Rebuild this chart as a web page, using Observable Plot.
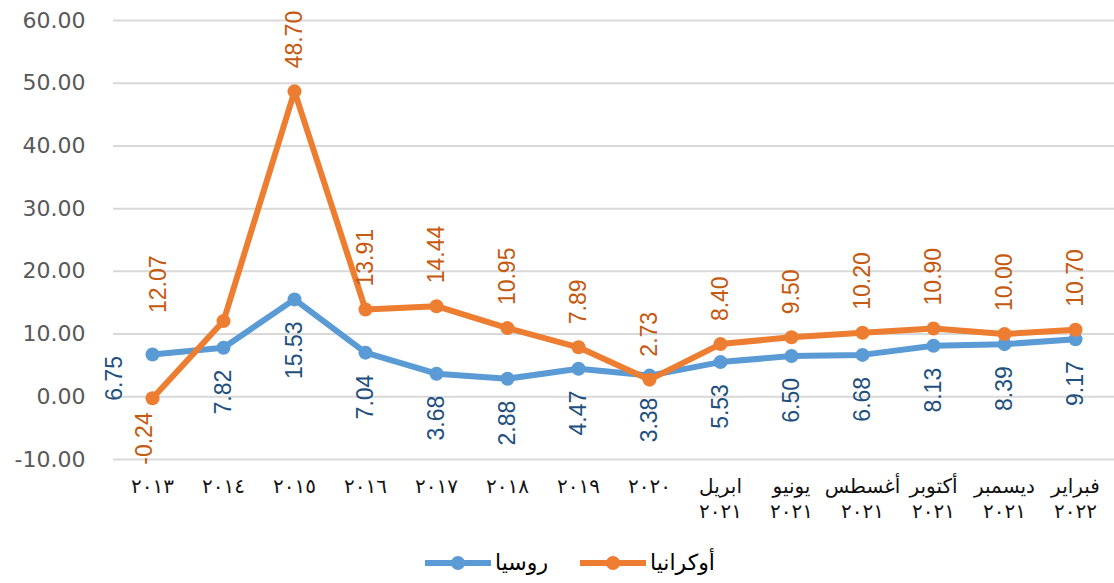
<!DOCTYPE html>
<html>
<head>
<meta charset="utf-8">
<script src="https://cdn.jsdelivr.net/npm/d3@7"></script>
<script src="https://cdn.jsdelivr.net/npm/@observablehq/plot@0.6"></script>
<style>
  body { margin: 0; background: #fff; width: 1114px; height: 583px; overflow: hidden; }
  #chart { position: relative; width: 1114px; }
  #legend { position: relative; width: 1114px; height: 53px; font-family: "DejaVu Sans", sans-serif; font-size: 22px; color: #000; }
  .item { position: absolute; top: 20px; display: flex; align-items: center; }
  .item span { margin-left: 4px; }
</style>
</head>
<body>
<div id="chart"></div>
<div id="legend"></div>
<script>
const categories = ["٢٠١٣","٢٠١٤","٢٠١٥","٢٠١٦","٢٠١٧","٢٠١٨","٢٠١٩","٢٠٢٠","ابريل\n٢٠٢١","يونيو\n٢٠٢١","أغسطس\n٢٠٢١","أكتوبر\n٢٠٢١","ديسمبر\n٢٠٢١","فبراير\n٢٠٢٢"];
const russia = [6.75, 7.82, 15.53, 7.04, 3.68, 2.88, 4.47, 3.38, 5.53, 6.50, 6.68, 8.13, 8.39, 9.17];
const ukraine = [-0.24, 12.07, 48.70, 13.91, 14.44, 10.95, 7.89, 2.73, 8.40, 9.50, 10.20, 10.90, 10.00, 10.70];
const yTicks = [-10, 0, 10, 20, 30, 40, 50, 60];
const seriesNames = ["روسيا", "أوكرانيا"];

const blue = "#5b9bd5", orange = "#ed7d31";
const blueText = "#22507e", orangeText = "#c55a11";

const ru = categories.map((c, i) => ({cat: c, i, value: russia[i]}));
const ua = categories.map((c, i) => ({cat: c, i, value: ukraine[i]}));

const labelFont = {fontFamily: "Liberation Sans, Arial, sans-serif", fontSize: 23, rotate: -90, text: d => d.value.toFixed(2)};

const chart = Plot.plot({
  width: 1114,
  height: 530,
  marginLeft: 113,
  marginRight: 0,
  marginTop: 20,
  marginBottom: 71,
  x: {type: "point", domain: categories, padding: 0.5},
  y: {domain: [-10, 60]},
  style: {background: "#fff", fontFamily: "DejaVu Sans, sans-serif"},
  marks: [
    Plot.gridY(yTicks, {stroke: "#d9d9d9", strokeOpacity: 1, strokeWidth: 2}),
    Plot.axisY(yTicks, {tickSize: 0, tickPadding: 28, tickFormat: d => d.toFixed(2), fontSize: 22, fill: "#595959", label: null}),
    Plot.axisX({tickSize: 0, tickPadding: 16, fontSize: 20, lineHeight: 1.25, fill: "#111", label: null}),
    Plot.line(ru, {x: "cat", y: "value", stroke: blue, strokeWidth: 6, strokeLinejoin: "round"}),
    Plot.dot(ru, {x: "cat", y: "value", fill: blue, r: 7}),
    Plot.line(ua, {x: "cat", y: "value", stroke: orange, strokeWidth: 6, strokeLinejoin: "round"}),
    Plot.dot(ua, {x: "cat", y: "value", fill: orange, r: 7}),
    // Russia labels (below points)
    Plot.text(ru.filter(d => d.i > 0), {x: "cat", y: "value", ...labelFont, fill: blueText, textAnchor: "end", dy: 22}),
    Plot.text(ru.filter(d => d.i === 0), {x: "cat", y: "value", ...labelFont, fill: blueText, textAnchor: "middle", dx: -38, dy: 24}),
    // Ukraine labels (above points)
    Plot.text(ua.filter(d => d.i > 1), {x: "cat", y: "value", ...labelFont, fill: orangeText, textAnchor: "start", dy: -23}),
    Plot.text(ua.filter(d => d.i === 0), {x: "cat", y: "value", ...labelFont, fill: orangeText, textAnchor: "end", dx: -8, dy: 14}),
    Plot.text(ua.filter(d => d.i === 1), {x: "cat", y: "value", ...labelFont, fill: orangeText, textAnchor: "start", dx: -65, dy: -8})
  ]
});
document.getElementById("chart").appendChild(chart);

// widen the Arabic-Indic year digits a little, as in the reference
d3.select(chart).selectAll("text, tspan").each(function () {
  const hasChildren = this.children && this.children.length > 0;
  if (!hasChildren && /^[٠-٩]+$/.test(this.textContent)) d3.select(this).style("letter-spacing", "3px");
});

function swatch(color) {
  return `<svg width="66" height="16"><line x1="1" y1="8" x2="65" y2="8" stroke="${color}" stroke-width="6" stroke-linecap="round"/><circle cx="33" cy="8" r="7" fill="${color}"/></svg>`;
}
const legend = document.getElementById("legend");
legend.innerHTML =
  `<div class="item" style="left:425px">${swatch(blue)}<span>${seriesNames[0]}</span></div>` +
  `<div class="item" style="left:580px">${swatch(orange)}<span>${seriesNames[1]}</span></div>`;
</script>
</body>
</html>
